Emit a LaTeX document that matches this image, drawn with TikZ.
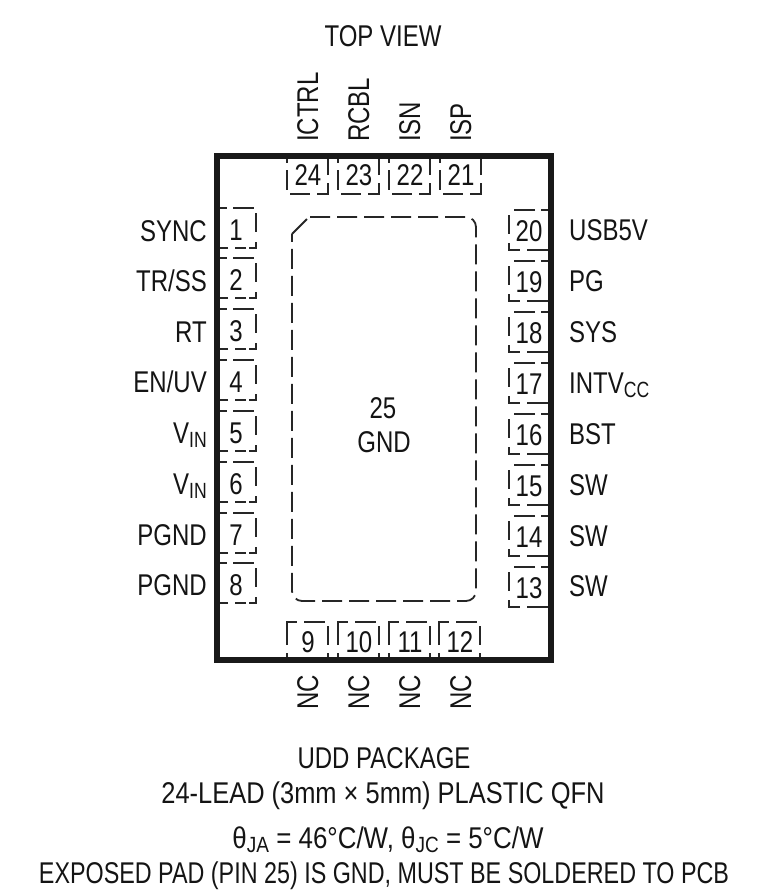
\documentclass[tikz,border=0pt]{standalone}
\usepackage{fontspec}
\setmainfont[FakeStretch=0.8]{Liberation Sans}
\newcommand{\subt}[1]{\raisebox{-4pt}{\fontsize{22}{22}\selectfont #1}}
\begin{document}
\begin{tikzpicture}[x=1pt,y=-1pt,
  txt/.style={inner sep=0pt,font=\fontsize{30}{30}\selectfont,text=black!92},
  padline/.style={line width=1.8pt,black!85},
  pkg/.style={line width=6pt,black!90,line join=miter},
  expad/.style={line width=1.8pt,black!85,dash pattern=on 20pt off 7pt}]
\useasboundingbox (0,0) rectangle (772,895);
\draw[pkg] (217,156) rectangle (551,660);
% exposed pad
\draw[expad,rounded corners=10pt] (310,217) -- (476,217) -- (476,601) -- (292,601) -- (292,234);
\draw[padline] (292,234) -- (307,219);
% left pads
\foreach \n/\c in {1/228,2/278,3/329,4/380,5/431,6/482,7/533,8/583}{
  \begin{scope}[shift={(220,\c-20)}]
   \draw[padline] (0,0)--(7,0) (13,0)--(34,0) (36,5)--(36,24) (36,34)--(36,40)--(29,40) (26,40)--(15,40) (8,40)--(0,40);
  \end{scope}
  \node[txt,anchor=base] (L\n) at (236,\c+12.5) {\n};
}
% right pads
\foreach \n/\c in {20/230,19/281,18/332,17/383,16/434,15/485,14/536,13/587}{
  \begin{scope}[shift={(548,\c-20)}]
   \draw[padline] (0,0)--(-7,0) (-13,0)--(-34,0) (-39,5)--(-39,24) (-39,33)--(-39,40)--(-28,40) (-21,40)--(0,40);
  \end{scope}
  \node[txt,anchor=base] (R\n) at (529,\c+11) {\n};
}
% top pads
\foreach \n/\x in {24/287,23/338,22/389,21/440}{
  \begin{scope}[shift={(\x,159)}]
   \draw[padline] (0,0)--(0,4) (0,11)--(0,31) (3,35)--(23,35) (30,35)--(41,35)--(41,24) (41,16)--(41,0);
  \end{scope}
  \node[txt,anchor=base] (T\n) at (\x+21,159+26) {\n};
}
% bottom pads
\foreach \n/\x in {9/287,10/338,11/389,12/439}{
  \begin{scope}[shift={(\x,657)}]
   \draw[padline] (0,0)--(0,-4) (0,-12)--(0,-31)--(0,-35)--(10,-35) (17,-35)--(38,-35) (41,-31)--(41,-12) (41,-4)--(41,0);
  \end{scope}
  \node[txt,anchor=base] (B\n) at (\x+21,657-5) {\n};
}
% left labels
\foreach \c/\t in {231/SYNC,281/TR\slash SS,332/RT,382/EN\slash UV,433/V\subt{IN},484/V\subt{IN},535/PGND,585/PGND}{
  \node[txt,anchor=base east] at (207,\c+10.5) {\t};
}
% right labels
\foreach \c/\t in {230/USB5V,281/PG,332/SYS,383/INTV\subt{CC},434/BST,485/SW,536/SW,586/SW}{
  \node[txt,anchor=base west] at (569,\c+10.5) {\t};
}
% top labels
\foreach \x/\t in {318/ICTRL,369/RCBL,420/ISN,471/ISP}{
  \node[txt,rotate=90,anchor=base west] at (\x,142) {\t};
}
% bottom labels
\foreach \x in {318,369,420,471}{
  \node[txt,rotate=90,anchor=base west] at (\x,710) {NC};
}
\node[txt,anchor=base] (gnda) at (383,418) {25};
\node[txt,anchor=base] (gndb) at (384,452) {GND};
\node[txt,anchor=base] (top) at (383,46) {TOP VIEW};
\node[txt,anchor=base] (p1) at (384,768) {UDD PACKAGE};
\node[txt,anchor=base,xscale=1.06] (p2) at (383,803) {24-LEAD (3mm × 5mm) PLASTIC QFN};
\node[txt,anchor=base,xscale=1.08] (p3) at (388,848) {θ\subt{JA} = 46°C/W, θ\subt{JC} = 5°C/W};
\node[txt,anchor=base,xscale=.972] (p4) at (384,883) {EXPOSED PAD (PIN 25) IS GND, MUST BE SOLDERED TO PCB};
\end{tikzpicture}
\end{document}
